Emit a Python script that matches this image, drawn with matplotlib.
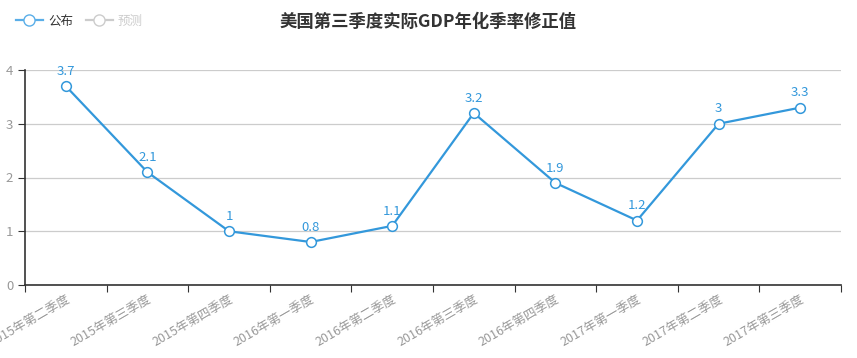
import matplotlib.pyplot as plt
from matplotlib.lines import Line2D
import numpy as np

plt.rcParams['font.family'] = ['Noto Sans CJK SC', 'DejaVu Sans']

quarters = ['2015年第二季度', '2015年第三季度', '2015年第四季度', '2016年第一季度',
            '2016年第二季度', '2016年第三季度', '2016年第四季度', '2017年第一季度',
            '2017年第二季度', '2017年第三季度']
published = [3.7, 2.1, 1, 0.8, 1.1, 3.2, 1.9, 1.2, 3, 3.3]

line_color = '#3398DB'
grey = '#999999'

fig = plt.figure(figsize=(8.57, 3.58), dpi=100)
ax = fig.add_axes([25 / 857, 73 / 358, 816 / 857, 215 / 358])

x = np.arange(len(quarters))
ax.plot(x, published, color=line_color, lw=1.6, marker='o', ms=7,
        markerfacecolor='white', markeredgecolor=line_color, markeredgewidth=1.1, zorder=3,
        clip_on=False)
for xi, v in zip(x, published):
    ax.annotate(f'{v:g}', (xi, v), xytext=(0, 6), textcoords='offset points',
                ha='center', va='bottom', color=line_color, fontsize=9.5)

ax.set_xlim(-0.5, len(quarters) - 0.5)
ax.set_ylim(0, 4)
ax.set_yticks([0, 1, 2, 3, 4])
ax.yaxis.grid(True, color='#cccccc', lw=0.9)
ax.set_axisbelow(True)

# category ticks sit between categories, labels at centers
ax.set_xticks(np.arange(-0.5, len(quarters), 1.0))
ax.set_xticklabels([])
ax.set_xticks(x, minor=True)
ax.set_xticklabels(quarters, minor=True, rotation=30, ha='right', va='top',
                   rotation_mode='anchor', color=grey, fontsize=9)
ax.tick_params(axis='x', which='minor', length=0, pad=6)
ax.tick_params(axis='x', which='major', length=5, color='#333333', direction='out')
ax.tick_params(axis='y', length=5, color='#333333', labelcolor=grey, labelsize=9.5)

for s in ['top', 'right']:
    ax.spines[s].set_visible(False)
for s in ['left', 'bottom']:
    ax.spines[s].set_color('#333333')
    ax.spines[s].set_linewidth(1.2)

fig.text(0.5, 1 - 22 / 358, '美国第三季度实际GDP年化季率修正值', ha='center', va='center',
         fontsize=12.5, fontweight='bold', color='#333333')

handles = [Line2D([], [], color='#5aaee8', lw=1.6, marker='o', ms=8,
                  markerfacecolor='white', markeredgecolor='#5aaee8'),
           Line2D([], [], color='#cccccc', lw=1.6, marker='o', ms=8,
                  markerfacecolor='white', markeredgecolor='#cccccc')]
leg = fig.legend(handles, ['公布', '预测'], loc='upper left', bbox_to_anchor=(0.005, 0.99),
                 ncol=2, frameon=False, fontsize=9, handlelength=2.2, columnspacing=1.0,
                 handletextpad=0.4)
leg.get_texts()[0].set_color('#333333')
leg.get_texts()[1].set_color('#cccccc')

fig.savefig('out.png', dpi=100)
